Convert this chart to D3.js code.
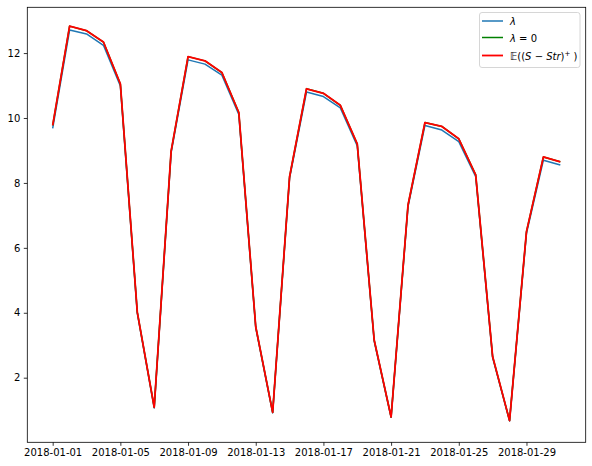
<!DOCTYPE html>
<html>
<head>
<meta charset="utf-8">
<script src="https://cdn.jsdelivr.net/npm/d3@7"></script>
<style>
  body { margin: 0; background: #fff; }
  text { font-family: "DejaVu Sans", sans-serif; }
</style>
</head>
<body>
<div id="canvas"></div>
<script>
"use strict"

/* Dates on the x axis (one point per day) */
let dates = ["2018-01-01","2018-01-02","2018-01-03","2018-01-04","2018-01-05","2018-01-06",
    "2018-01-07","2018-01-08","2018-01-09","2018-01-10","2018-01-11","2018-01-12",
    "2018-01-13","2018-01-14","2018-01-15","2018-01-16","2018-01-17","2018-01-18",
    "2018-01-19","2018-01-20","2018-01-21","2018-01-22","2018-01-23","2018-01-24",
    "2018-01-25","2018-01-26","2018-01-27","2018-01-28","2018-01-29","2018-01-30","2018-01-31"];

/* Series */
let lambdaVals = [9.68, 12.71, 12.59, 12.24, 10.99, 3.99, 1.07, 8.93, 11.79, 11.66, 11.32,
    10.11, 3.54, 0.92, 8.15, 10.80, 10.66, 10.31, 9.14, 3.13, 0.78, 7.27, 9.77, 9.63,
    9.27, 8.19, 2.62, 0.67, 6.45, 8.70, 8.55];
let lambdaZeroVals = [9.77, 12.83, 12.69, 12.34, 11.05, 4.02, 1.09, 8.98, 11.89, 11.76, 11.40,
    10.17, 3.57, 0.93, 8.19, 10.90, 10.76, 10.39, 9.20, 3.16, 0.79, 7.32, 9.86, 9.74,
    9.36, 8.25, 2.65, 0.68, 6.50, 8.80, 8.65];
let expectVals = [9.77, 12.83, 12.69, 12.34, 11.05, 4.02, 1.09, 8.98, 11.89, 11.76, 11.40,
    10.17, 3.57, 0.93, 8.19, 10.90, 10.76, 10.39, 9.20, 3.16, 0.79, 7.32, 9.86, 9.74,
    9.36, 8.25, 2.65, 0.68, 6.50, 8.80, 8.65];

let xTickLabels = ["2018-01-01","2018-01-05","2018-01-09","2018-01-13",
    "2018-01-17","2018-01-21","2018-01-25","2018-01-29"];
let yTickValues = [2, 4, 6, 8, 10, 12];

let W = 592, H = 466;
let axLeft = 27.3, axRight = 585.7, axTop = 7.3, axBottom = 442.3;

let drawing = d3.select("#canvas")
    .append("svg")
    .attr("width", W)
    .attr("height", H);

drawing.append("rect")
    .attr("width", W)
    .attr("height", H)
    .attr("fill", "white");

let parse = d3.utcParse("%Y-%m-%d");
let firstDay = parse(dates[0]), lastDay = parse(dates[dates.length - 1]);
let pad = (lastDay - firstDay) * 0.05;

let x = d3.scaleUtc()
    .domain([new Date(+firstDay - pad), new Date(+lastDay + pad)])
    .range([axLeft, axRight]);

let y = d3.scaleLinear()
    .domain([0.01, 13.41])
    .range([axBottom, axTop]);

/* axes */
let xAxis = drawing.append("g")
    .attr("transform", "translate(0," + axBottom + ")")
    .call(d3.axisBottom(x)
        .tickValues(xTickLabels.map(parse))
        .tickFormat(d3.utcFormat("%Y-%m-%d"))
        .tickSize(3.5)
        .tickPadding(3.5));

let yAxis = drawing.append("g")
    .attr("transform", "translate(" + axLeft + ",0)")
    .call(d3.axisLeft(y)
        .tickValues(yTickValues)
        .tickSize(3.5)
        .tickPadding(3.5));

drawing.selectAll(".domain").remove();
drawing.selectAll(".tick line").attr("stroke", "black").attr("stroke-width", 0.8);
drawing.selectAll(".tick text")
    .attr("font-family", "DejaVu Sans")
    .attr("font-size", 10)
    .attr("fill", "black");

/* spines */
let frame = drawing.append("rect")
    .attr("x", axLeft)
    .attr("y", axTop)
    .attr("width", axRight - axLeft)
    .attr("height", axBottom - axTop)
    .attr("fill", "none")
    .attr("stroke", "black")
    .attr("stroke-width", 0.8);

/* lines */
let series = [
    { vals: lambdaVals, color: "#1f77b4", width: 1.5 },
    { vals: lambdaZeroVals, color: "#008000", width: 1.5 },
    { vals: expectVals, color: "#ff0000", width: 1.8 }
];

let lineGen = d3.line()
    .x((d, i) => x(parse(dates[i])))
    .y(d => y(d));

let plot = drawing.append("g");
series.forEach(s => {
    plot.append("path")
        .datum(s.vals)
        .attr("d", lineGen)
        .attr("fill", "none")
        .attr("stroke", s.color)
        .attr("stroke-width", s.width)
        .attr("stroke-linejoin", "round");
});

/* legend */
let legend = drawing.append("g");
legend.append("rect")
    .attr("x", 479.5)
    .attr("y", 12.5)
    .attr("width", 100.5)
    .attr("height", 55)
    .attr("rx", 2.5)
    .attr("fill", "white")
    .attr("fill-opacity", 0.8)
    .attr("stroke", "#cccccc")
    .attr("stroke-width", 0.8);

let rowsY = [21, 37.5, 55.5];
series.forEach((s, i) => {
    legend.append("line")
        .attr("x1", 482)
        .attr("x2", 503)
        .attr("y1", rowsY[i])
        .attr("y2", rowsY[i])
        .attr("stroke", s.color)
        .attr("stroke-width", s.width);
});

let lab0 = legend.append("text")
    .attr("x", 510).attr("y", rowsY[0] + 4)
    .attr("font-size", 10);
lab0.append("tspan").attr("font-style", "italic").text("λ");

let lab1 = legend.append("text")
    .attr("x", 510).attr("y", rowsY[1] + 4)
    .attr("font-size", 10);
lab1.append("tspan").attr("font-style", "italic").text("λ");
lab1.append("tspan").text(" = 0");

let lab2 = legend.append("text")
    .attr("x", 510).attr("y", rowsY[2] + 4)
    .attr("font-size", 10);
lab2.append("tspan").text("𝔼((");
lab2.append("tspan").attr("font-style", "italic").text("S");
lab2.append("tspan").text(" − ");
lab2.append("tspan").attr("font-style", "italic").text("Str");
lab2.append("tspan").text(")");
lab2.append("tspan").attr("font-size", 7).attr("dy", -4).text("+");
lab2.append("tspan").attr("dy", 4).text(" )");
</script>
</body>
</html>
